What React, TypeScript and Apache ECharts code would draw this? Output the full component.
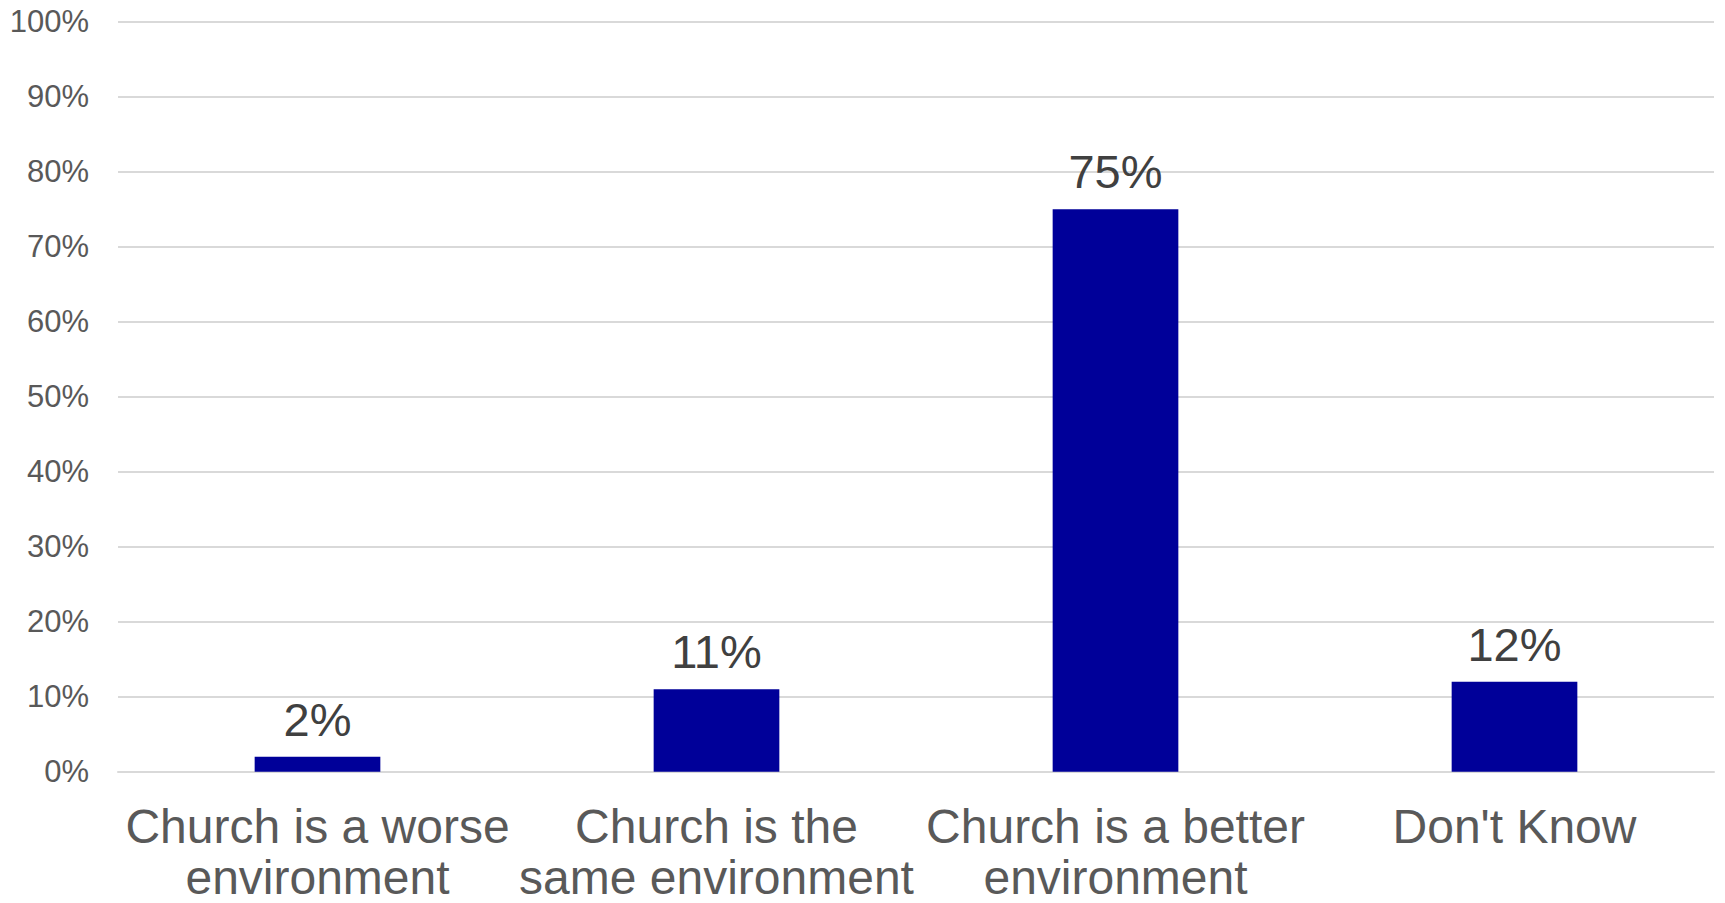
import React, { useEffect, useRef } from "react";
import * as echarts from "echarts";

const categories = [
  "Church is a worse\nenvironment",
  "Church is the\nsame environment",
  "Church is a better\nenvironment",
  "Don't Know",
];
const values = [2, 11, 75, 12];
const yTicks = { min: 0, max: 100, interval: 10 };

export default function App() {
  const ref = useRef<HTMLDivElement>(null);
  useEffect(() => {
    if (!ref.current) return;
    const chart = echarts.init(ref.current, undefined, { renderer: "svg" });
    chart.setOption({
      animation: false,
      backgroundColor: "#ffffff",
      grid: {
        left: 118,
        right: 11,
        top: 21.7,
        bottom: 131.3,
        containLabel: false,
        outerBoundsMode: "none",
      },
      xAxis: {
        type: "category",
        data: categories,
        axisLine: { show: true, lineStyle: { color: "#d9d9d9", width: 2 } },
        axisTick: { show: false },
        axisLabel: {
          interval: 0,
          color: "#595959",
          fontFamily: "Liberation Sans, Arial, sans-serif",
          fontSize: 48,
          lineHeight: 51,
          margin: 29,
        },
      },
      yAxis: {
        type: "value",
        min: yTicks.min,
        max: yTicks.max,
        interval: yTicks.interval,
        axisLine: { show: false },
        axisTick: { show: false },
        splitLine: { lineStyle: { color: "#d9d9d9", width: 2 } },
        axisLabel: {
          formatter: "{value}%",
          color: "#595959",
          fontFamily: "Liberation Sans, Arial, sans-serif",
          fontSize: 31,
          margin: 29,
        },
      },
      series: [
        {
          type: "bar",
          data: values,
          barWidth: "31.5%",
          itemStyle: { color: "#000099" },
          label: {
            show: true,
            position: "top",
            distance: 14,
            formatter: "{c}%",
            color: "#404040",
            fontFamily: "Liberation Sans, Arial, sans-serif",
            fontSize: 47,
          },
        },
      ],
    });
    return () => chart.dispose();
  }, []);
  return (
    <div
      ref={ref}
      style={{ position: "fixed", left: 0, top: 0, width: 1725, height: 903 }}
    />
  );
}
